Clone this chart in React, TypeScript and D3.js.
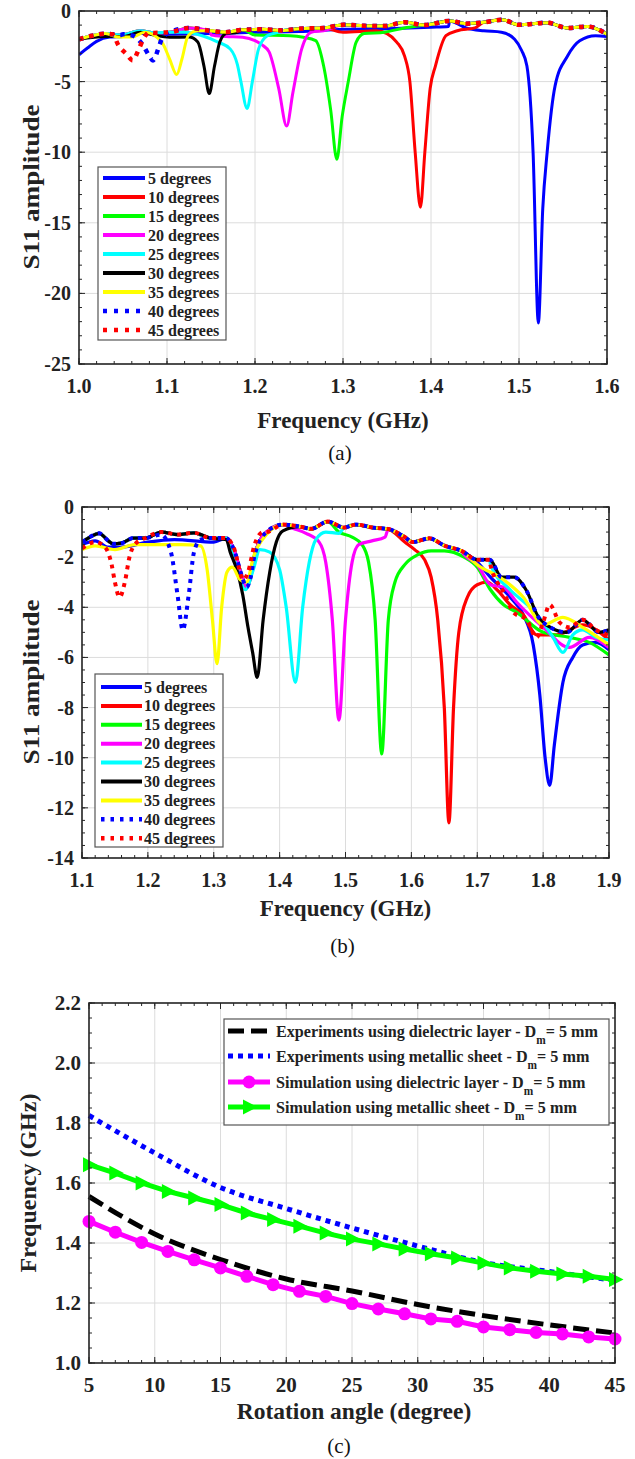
import React from 'react';
import * as d3 from 'd3';

type P = [number, number];

const FONT = "'Liberation Serif', 'Times New Roman', Times, serif";
const TXT = '#222222';
const boldStyle = (size: number): React.CSSProperties => ({ fontFamily: FONT, fontWeight: 700, fontSize: size });
const regStyle = (size: number): React.CSSProperties => ({ fontFamily: FONT, fontWeight: 400, fontSize: size });

// ---------- shared legend for (a) and (b)
const SERIES_LABELS = ['5 degrees', '10 degrees', '15 degrees', '20 degrees', '25 degrees', '30 degrees', '35 degrees', '40 degrees', '45 degrees'];
const SERIES_COLORS = ['#0000ff', '#ff0000', '#00ff00', '#ff00ff', '#00ffff', '#000000', '#ffff00', '#0000ff', '#ff0000'];
const SERIES_DOTTED = [false, false, false, false, false, false, false, true, true];

// ---------- panel (a)
const A_X_TICKS = [1.0, 1.1, 1.2, 1.3, 1.4, 1.5, 1.6];
const A_Y_TICKS = [0, -5, -10, -15, -20, -25];
const A_BASE: P[] = [[1.0, -2.0], [1.015, -1.75], [1.03, -1.6], [1.047, -1.7], [1.07, -1.4], [1.085, -1.55], [1.103, -1.5], [1.126, -1.2], [1.149, -1.4], [1.167, -1.5], [1.186, -1.33], [1.209, -1.3], [1.232, -1.38], [1.25, -1.26], [1.278, -1.2], [1.301, -0.98], [1.324, -1.05], [1.347, -1.07], [1.37, -0.8], [1.393, -1.0], [1.421, -0.7], [1.44, -0.9], [1.46, -0.8], [1.481, -0.62], [1.5, -0.98], [1.532, -0.83], [1.555, -1.2], [1.578, -1.1], [1.6, -1.65]];
const A_S5: P[][] = [
  [[1.0, -3.1], [1.01, -2.6], [1.02, -2.15], [1.035, -1.85], [1.05, -1.8]],
  [[1.07, -1.6], [1.1, -1.65], [1.15, -1.6], [1.2, -1.5], [1.25, -1.45], [1.3, -1.3], [1.35, -1.25], [1.4, -1.15], [1.42, -1.1]],
  [[1.44, -1.2], [1.46, -1.4], [1.48, -1.5], [1.495, -2.0], [1.503, -2.8], [1.509, -3.9], [1.516, -10], [1.522, -22.1], [1.527, -14], [1.532, -10], [1.541, -5.3], [1.555, -3.2], [1.569, -2.1], [1.587, -1.75], [1.6, -1.8]],
];
const A_S10: P[][] = [[[1.3, -1.5], [1.338, -1.4], [1.35, -1.6], [1.361, -2.2], [1.37, -3.2], [1.376, -5], [1.382, -10], [1.388, -13.9], [1.393, -10], [1.399, -5.5], [1.405, -3.9], [1.417, -1.75], [1.43, -1.4], [1.45, -1.2]]];
const A_S15: P[][] = [[[1.2, -1.7], [1.24, -1.75], [1.255, -1.86], [1.269, -2.1], [1.278, -3.9], [1.286, -7], [1.293, -10.5], [1.299, -7.5], [1.306, -5], [1.315, -2.2], [1.324, -1.6], [1.347, -1.5], [1.37, -1.2]]];
const A_S20: P[][] = [[[1.15, -1.7], [1.167, -1.8], [1.186, -1.86], [1.2, -2.1], [1.208, -2.4], [1.216, -2.9], [1.227, -5.5], [1.236, -8.15], [1.243, -5.8], [1.253, -2.7], [1.264, -1.5], [1.278, -1.4]]];
const A_S25: P[][] = [[[1.121, -1.5], [1.14, -1.75], [1.158, -2.2], [1.172, -2.7], [1.18, -3.8], [1.184, -5], [1.191, -6.9], [1.197, -5], [1.204, -2.7], [1.214, -1.75], [1.227, -1.5]]];
const A_S30: P[][] = [[[1.0, -2.0], [1.03, -1.8], [1.05, -1.8], [1.07, -1.5], [1.085, -1.7], [1.103, -1.86], [1.125, -1.85], [1.135, -2.2], [1.142, -3.9], [1.148, -5.85], [1.154, -3.9], [1.16, -2.2], [1.167, -1.6], [1.18, -1.5]]];
const A_S35: P[][] = [[[1.045, -1.85], [1.06, -1.85], [1.075, -1.5], [1.094, -2.2], [1.103, -3.4], [1.111, -4.5], [1.117, -3.4], [1.124, -1.75], [1.135, -1.4]]];
const A_S40: P[][] = [[[1.05, -1.65], [1.061, -1.75], [1.073, -2.45], [1.08, -3.2], [1.084, -3.5], [1.09, -2.7], [1.094, -2.0], [1.103, -1.5]]];
const A_S45: P[][] = [[[1.03, -1.6], [1.038, -1.65], [1.045, -2.45], [1.054, -3.05], [1.061, -3.5], [1.068, -2.7], [1.073, -2.0], [1.08, -1.5]]];
const A_SERIES = [A_S5, A_S10, A_S15, A_S20, A_S25, A_S30, A_S35, A_S40, A_S45];

// ---------- panel (b)
const B_X_TICKS = [1.1, 1.2, 1.3, 1.4, 1.5, 1.6, 1.7, 1.8, 1.9];
const B_Y_TICKS = [0, -2, -4, -6, -8, -10, -12, -14];
const B_BASE: P[] = [[1.1, -1.4], [1.112, -1.2], [1.126, -1.05], [1.14, -1.35], [1.147, -1.47], [1.16, -1.44], [1.178, -1.24], [1.196, -1.24], [1.221, -1.0], [1.246, -1.1], [1.27, -1.03], [1.295, -1.24], [1.319, -1.24], [1.332, -1.8], [1.342, -2.7], [1.35, -3.2], [1.356, -2.8], [1.362, -1.93], [1.38, -1.0], [1.405, -0.7], [1.43, -0.78], [1.448, -0.87], [1.473, -0.58], [1.498, -0.82], [1.516, -0.7], [1.541, -0.82], [1.565, -0.88], [1.59, -1.2], [1.602, -1.4], [1.627, -1.25], [1.651, -1.55], [1.676, -1.75], [1.7, -2.1], [1.719, -2.1], [1.737, -2.8], [1.756, -2.8], [1.774, -3.3], [1.793, -4.4], [1.811, -4.8], [1.836, -5.0], [1.86, -4.5], [1.885, -5.0], [1.9, -4.9]];
const B_S5: P[][] = [
  [[1.1, -1.5], [1.12, -1.35], [1.14, -1.6], [1.16, -1.6], [1.2, -1.4], [1.24, -1.3], [1.3, -1.4]],
  [[1.7, -2.2], [1.72, -2.8], [1.75, -3.6], [1.77, -4.3], [1.785, -5.5], [1.795, -7.5], [1.803, -10], [1.81, -11.1], [1.817, -9.5], [1.83, -7], [1.845, -6], [1.86, -5.5], [1.88, -5.4], [1.9, -5.7]],
];
const B_S10: P[][] = [[[1.59, -1.4], [1.605, -1.7], [1.62, -2.1], [1.63, -2.8], [1.64, -4.5], [1.65, -8], [1.657, -12.6], [1.664, -8], [1.672, -5], [1.685, -3.6], [1.7, -3.1], [1.715, -3.0], [1.73, -3.3], [1.75, -3.9], [1.77, -4.3], [1.79, -5.1], [1.82, -5.1], [1.86, -4.7], [1.9, -5.3]]];
const B_S15: P[][] = [[[1.49, -1.0], [1.51, -1.2], [1.525, -1.5], [1.535, -2.2], [1.545, -4.5], [1.555, -9.85], [1.565, -4.5], [1.575, -3], [1.59, -2.3], [1.61, -1.9], [1.63, -1.75], [1.65, -1.75], [1.68, -2.0], [1.7, -2.4], [1.72, -3.3], [1.74, -3.9], [1.76, -4.2], [1.8, -5.0], [1.84, -5.2], [1.87, -5.4], [1.9, -5.9]]];
const B_S20: P[][] = [
  [[1.42, -0.85], [1.44, -1.05], [1.46, -1.4], [1.47, -2.2], [1.48, -4.5], [1.49, -8.5], [1.5, -4.5], [1.51, -2.2], [1.52, -1.5], [1.54, -1.35], [1.56, -1.2]],
  [[1.68, -1.9], [1.7, -2.3], [1.72, -3.1], [1.74, -3.2], [1.76, -3.8], [1.8, -4.8], [1.84, -5.6], [1.87, -5.2], [1.9, -5.6]],
];
const B_S25: P[][] = [
  [[1.33, -2.0], [1.348, -3.3], [1.36, -2.5], [1.37, -1.7], [1.385, -1.8], [1.4, -2.5], [1.41, -4], [1.424, -7.0], [1.435, -4], [1.445, -2.2], [1.455, -1.3], [1.47, -1.0], [1.49, -1.05]],
  [[1.72, -2.3], [1.75, -3.3], [1.78, -4.0], [1.8, -4.6], [1.815, -5.2], [1.83, -5.8], [1.845, -5.1], [1.86, -4.9], [1.88, -5.2], [1.9, -5.3]],
];
const B_S30: P[][] = [[[1.319, -1.3], [1.325, -1.8], [1.335, -2.5], [1.344, -3.5], [1.352, -4.8], [1.359, -5.8], [1.366, -6.8], [1.375, -4.5], [1.385, -2.6], [1.395, -1.4], [1.405, -0.95]]];
const B_S35: P[][] = [
  [[1.1, -1.7], [1.12, -1.55], [1.15, -1.7], [1.18, -1.5], [1.2, -1.5], [1.25, -1.5], [1.28, -1.55], [1.29, -2.5], [1.298, -4.5], [1.305, -6.25], [1.312, -4], [1.32, -2.6], [1.328, -2.4], [1.34, -2.9], [1.35, -3.0], [1.36, -2.0], [1.38, -1.1]],
  [[1.7, -2.3], [1.74, -2.9], [1.77, -3.6], [1.8, -4.7], [1.83, -4.4], [1.86, -4.8], [1.9, -5.5]],
];
const B_S40: P[][] = [[[1.22, -1.1], [1.235, -1.8], [1.245, -3.5], [1.253, -4.9], [1.262, -3.5], [1.27, -1.8], [1.28, -1.3]]];
const B_S45: P[][] = [
  [[1.1, -1.65], [1.12, -1.4], [1.135, -1.6], [1.145, -2.3], [1.15, -3], [1.157, -3.6], [1.165, -3], [1.172, -2], [1.18, -1.5]],
  [[1.33, -1.6], [1.345, -2.9], [1.352, -2.6], [1.362, -1.5], [1.375, -1.0]],
  [[1.72, -2.3], [1.74, -3.4], [1.755, -4.2], [1.775, -4.5], [1.79, -5.2], [1.8, -4.6], [1.81, -3.9], [1.825, -4.6], [1.84, -4.8], [1.86, -4.5], [1.88, -4.9], [1.9, -5.1]],
];
const B_SERIES = [B_S5, B_S10, B_S15, B_S20, B_S25, B_S30, B_S35, B_S40, B_S45];

// ---------- panel (c)
const C_X_TICKS = [5, 10, 15, 20, 25, 30, 35, 40, 45];
const C_Y_TICKS = [1.0, 1.2, 1.4, 1.6, 1.8, 2.0, 2.2];
const C_EXP_ANGLES = [5, 10, 15, 20, 25, 30, 35, 40, 45];
const C_EXP_DIEL = [1.555, 1.43, 1.345, 1.28, 1.24, 1.195, 1.158, 1.127, 1.10];
const C_EXP_METAL = [1.825, 1.70, 1.585, 1.515, 1.45, 1.39, 1.335, 1.305, 1.275];
const C_SIM_ANGLES = [5, 7, 9, 11, 13, 15, 17, 19, 21, 23, 25, 27, 29, 31, 33, 35, 37, 39, 41, 43, 45];
const C_SIM_DIEL = [1.472, 1.436, 1.402, 1.372, 1.344, 1.317, 1.289, 1.261, 1.239, 1.222, 1.198, 1.18, 1.164, 1.147, 1.139, 1.12, 1.111, 1.102, 1.097, 1.087, 1.08];
const C_SIM_METAL = [1.661, 1.633, 1.60, 1.572, 1.55, 1.528, 1.50, 1.478, 1.456, 1.433, 1.413, 1.397, 1.38, 1.364, 1.35, 1.333, 1.317, 1.306, 1.297, 1.289, 1.278];
const C_LEGEND = [
  'Experiments using dielectric layer - D',
  'Experiments using metallic sheet - D',
  'Simulation using dielectric layer - D',
  'Simulation using metallic sheet - D',
];

function merge(base: P[], segs: P[][]): P[] {
  const out: P[] = base.filter((p) => !segs.some((s) => p[0] >= s[0][0] && p[0] <= s[s.length - 1][0]));
  segs.forEach((s) => out.push(...s));
  return out.sort((a, b) => a[0] - b[0]);
}

type FrameProps = {
  x: d3.ScaleLinear<number, number>;
  y: d3.ScaleLinear<number, number>;
  xTicks: number[];
  yTicks: number[];
  xMinor: number[];
  yMinor: number[];
  xFmt: (v: number) => string;
  yFmt: (v: number) => string;
  fontSize: number;
  xLabelBaseline: number;
  layer: 'grid' | 'axes';
};

function Frame(p: FrameProps) {
  const [xl, xr] = p.x.range();
  const [yb, yt] = p.y.range();
  if (p.layer === 'grid') {
    return (
      <g stroke="#dcdcdc" strokeWidth={1}>
        {p.xTicks.map((t) => (
          <line key={'gx' + t} x1={p.x(t)} x2={p.x(t)} y1={yt} y2={yb} />
        ))}
        {p.yTicks.map((t) => (
          <line key={'gy' + t} x1={xl} x2={xr} y1={p.y(t)} y2={p.y(t)} />
        ))}
      </g>
    );
  }
  const M = 6;
  const m = 3;
  return (
    <g>
      <g stroke="#262626" strokeWidth={1}>
        {p.xMinor.map((t) => (
          <g key={'mx' + t}>
            <line x1={p.x(t)} x2={p.x(t)} y1={yb} y2={yb - m} />
            <line x1={p.x(t)} x2={p.x(t)} y1={yt} y2={yt + m} />
          </g>
        ))}
        {p.yMinor.map((t) => (
          <g key={'my' + t}>
            <line x1={xl} x2={xl + m} y1={p.y(t)} y2={p.y(t)} />
            <line x1={xr} x2={xr - m} y1={p.y(t)} y2={p.y(t)} />
          </g>
        ))}
        {p.xTicks.map((t) => (
          <g key={'Mx' + t}>
            <line x1={p.x(t)} x2={p.x(t)} y1={yb} y2={yb - M} />
            <line x1={p.x(t)} x2={p.x(t)} y1={yt} y2={yt + M} />
          </g>
        ))}
        {p.yTicks.map((t) => (
          <g key={'My' + t}>
            <line x1={xl} x2={xl + M} y1={p.y(t)} y2={p.y(t)} />
            <line x1={xr} x2={xr - M} y1={p.y(t)} y2={p.y(t)} />
          </g>
        ))}
      </g>
      <rect x={xl} y={yt} width={xr - xl} height={yb - yt} fill="none" stroke="#262626" strokeWidth={1.6} />
      <g fill={TXT}>
        {p.xTicks.map((t) => (
          <text key={'tx' + t} x={p.x(t)} y={p.xLabelBaseline} textAnchor="middle" style={boldStyle(p.fontSize)}>
            {p.xFmt(t)}
          </text>
        ))}
        {p.yTicks.map((t) => (
          <text key={'ty' + t} x={xl - 8} y={p.y(t)} dy="0.35em" textAnchor="end" style={boldStyle(p.fontSize)}>
            {p.yFmt(t)}
          </text>
        ))}
      </g>
    </g>
  );
}

function SParamPanel(props: {
  id: string;
  x: d3.ScaleLinear<number, number>;
  y: d3.ScaleLinear<number, number>;
  base: P[];
  series: P[][][];
  xTicks: number[];
  yTicks: number[];
  xMinorStep: number;
  yMinorStep: number;
  xLabelBaseline: number;
  titleBaseline: number;
  capBaseline: number;
  caption: string;
  yLabelCenter: number;
  legend: { x: number; y: number; w: number; h: number; row0: number; step: number; lx0: number; lx1: number; tx: number };
  solidW: number;
  dotW: number;
  dotDash: string;
  legDotDash: string;
}) {
  const { x, y } = props;
  const [xl, xr] = x.range();
  const [yb, yt] = y.range();
  const line = d3
    .line<P>()
    .x((d) => x(d[0]))
    .y((d) => y(d[1]))
    .curve(d3.curveMonotoneX);
  const xd = x.domain();
  const yd = y.domain();
  const xMinor = d3.range(Math.round((xd[1] - xd[0]) / props.xMinorStep) + 1).map((i) => +(xd[0] + i * props.xMinorStep).toFixed(4));
  const yMinor = d3.range(Math.round((yd[1] - yd[0]) / props.yMinorStep) + 1).map((i) => +(yd[0] + i * props.yMinorStep).toFixed(4));
  const fr = {
    x,
    y,
    xTicks: props.xTicks,
    yTicks: props.yTicks,
    xMinor,
    yMinor,
    xFmt: (v: number) => v.toFixed(1),
    yFmt: (v: number) => String(v),
    fontSize: 20,
    xLabelBaseline: props.xLabelBaseline,
  };
  const L = props.legend;
  return (
    <g>
      <defs>
        <clipPath id={props.id}>
          <rect x={xl} y={yt} width={xr - xl} height={yb - yt} />
        </clipPath>
      </defs>
      <Frame {...fr} layer="grid" />
      <g clipPath={`url(#${props.id})`} fill="none">
        {props.series.map((segs, i) => (
          <path
            key={i}
            d={line(merge(props.base, segs)) || ''}
            stroke={SERIES_COLORS[i]}
            strokeWidth={SERIES_DOTTED[i] ? props.dotW : props.solidW}
            strokeDasharray={SERIES_DOTTED[i] ? props.dotDash : undefined}
            strokeLinejoin="round"
          />
        ))}
      </g>
      <Frame {...fr} layer="axes" />
      <g>
        <rect x={L.x} y={L.y} width={L.w} height={L.h} fill="#fff" stroke="#555" strokeWidth={1.2} />
        {SERIES_LABELS.map((lab, i) => {
          const cy = L.row0 + i * L.step;
          return (
            <g key={lab}>
              <line
                x1={L.lx0}
                x2={L.lx1}
                y1={cy}
                y2={cy}
                stroke={SERIES_COLORS[i]}
                strokeWidth={SERIES_DOTTED[i] ? 4.5 : 4}
                strokeDasharray={SERIES_DOTTED[i] ? props.legDotDash : undefined}
              />
              <text x={L.tx} y={cy + 5.5} style={boldStyle(16)} fill={TXT}>
                {lab}
              </text>
            </g>
          );
        })}
      </g>
      <text x={(xl + xr) / 2} y={props.titleBaseline} textAnchor="middle" style={boldStyle(23)} fill={TXT}>
        Frequency (GHz)
      </text>
      <text transform={`translate(39,${props.yLabelCenter}) rotate(-90) scale(1.18,1)`} textAnchor="middle" style={boldStyle(23)} fill={TXT}>
        S11 amplitude
      </text>
      <text x={(xl + xr) / 2 - 3} y={props.capBaseline} textAnchor="middle" style={regStyle(21)} fill="#111">
        {props.caption}
      </text>
    </g>
  );
}

function PanelC() {
  const x = d3.scaleLinear().domain([5, 45]).range([89, 615]);
  const y = d3.scaleLinear().domain([1.0, 2.2]).range([1363, 1003]);
  const xMinor = d3.range(5, 46, 1);
  const yMinor = d3.range(0, 25).map((i) => +(1.0 + i * 0.05).toFixed(3));
  const fr = {
    x,
    y,
    xTicks: C_X_TICKS,
    yTicks: C_Y_TICKS,
    xMinor,
    yMinor,
    xFmt: (v: number) => String(v),
    yFmt: (v: number) => v.toFixed(1),
    fontSize: 21,
    xLabelBaseline: 1392,
  };
  const smooth = d3
    .line<[number, number]>()
    .x((d) => x(d[0]))
    .y((d) => y(d[1]))
    .curve(d3.curveMonotoneX);
  const straight = d3
    .line<[number, number]>()
    .x((d) => x(d[0]))
    .y((d) => y(d[1]));
  const expDiel = C_EXP_ANGLES.map((a, i) => [a, C_EXP_DIEL[i]] as [number, number]);
  const expMetal = C_EXP_ANGLES.map((a, i) => [a, C_EXP_METAL[i]] as [number, number]);
  const simDiel = C_SIM_ANGLES.map((a, i) => [a, C_SIM_DIEL[i]] as [number, number]);
  const simMetal = C_SIM_ANGLES.map((a, i) => [a, C_SIM_METAL[i]] as [number, number]);
  const tri = (cx: number, cy: number) => `M${cx - 6},${cy - 7.5}L${cx + 8.5},${cy}L${cx - 6},${cy + 7.5}Z`;
  const [xl, xr] = x.range();
  const legRows = [1031, 1056, 1082, 1107];
  const lx0 = 228;
  const lx1 = 270;
  const lmid = (lx0 + lx1) / 2;
  return (
    <g>
      <Frame {...fr} layer="grid" />
      <g fill="none">
        <path d={smooth(expDiel) || ''} stroke="#000" strokeWidth={5} strokeDasharray="16 7" />
        <path d={smooth(expMetal) || ''} stroke="#0000ff" strokeWidth={5} strokeDasharray="5 5" />
        <path d={straight(simDiel) || ''} stroke="#ff00ff" strokeWidth={5} />
        <path d={straight(simMetal) || ''} stroke="#00ff00" strokeWidth={5} />
      </g>
      {simDiel.map((d, i) => (
        <circle key={'c' + i} cx={x(d[0])} cy={y(d[1])} r={6.5} fill="#ff00ff" />
      ))}
      {simMetal.map((d, i) => (
        <path key={'t' + i} d={tri(x(d[0]), y(d[1]))} fill="#00ff00" />
      ))}
      <Frame {...fr} layer="axes" />
      <rect x={224} y={1019} width={385} height={106} fill="#fff" stroke="#555" strokeWidth={1.2} />
      <line x1={lx0} x2={lx1} y1={legRows[0]} y2={legRows[0]} stroke="#000" strokeWidth={5} strokeDasharray="16 7" />
      <line x1={lx0} x2={lx1} y1={legRows[1]} y2={legRows[1]} stroke="#0000ff" strokeWidth={5} strokeDasharray="5 5" />
      <line x1={lx0} x2={lx1} y1={legRows[2]} y2={legRows[2]} stroke="#ff00ff" strokeWidth={5} />
      <circle cx={lmid} cy={legRows[2]} r={6.5} fill="#ff00ff" />
      <line x1={lx0} x2={lx1} y1={legRows[3]} y2={legRows[3]} stroke="#00ff00" strokeWidth={5} />
      <path d={tri(lmid, legRows[3])} fill="#00ff00" />
      {C_LEGEND.map((t, i) => (
        <g key={t} transform={`translate(276,${legRows[i] + 5.5}) scale(0.95,1)`}>
          <text style={boldStyle(17)} fill={TXT}>
            <tspan>{t}</tspan>
            <tspan dy={7} style={boldStyle(12)}>
              m
            </tspan>
            <tspan dy={-7}>= 5 mm</tspan>
          </text>
        </g>
      ))}
      <text x={(xl + xr) / 2 + 2} y={1419} textAnchor="middle" style={boldStyle(23.5)} fill={TXT}>
        Rotation angle (degree)
      </text>
      <text transform={`translate(36,1183) rotate(-90)`} textAnchor="middle" style={boldStyle(24)} fill={TXT}>
        Frequency (GHz)
      </text>
      <text x={339} y={1453} textAnchor="middle" style={regStyle(21)} fill="#111">
        (c)
      </text>
    </g>
  );
}

export default function App() {
  const xA = d3.scaleLinear().domain([1.0, 1.6]).range([79, 607]);
  const yA = d3.scaleLinear().domain([-25, 0]).range([364, 11]);
  const xB = d3.scaleLinear().domain([1.1, 1.9]).range([82, 609]);
  const yB = d3.scaleLinear().domain([-14, 0]).range([858, 507]);
  return (
    <svg width={635} height={1459} style={{ position: 'absolute', left: 0, top: 0, background: '#fff', fontFamily: FONT }}>
      <rect width={635} height={1459} fill="#fff" />
      <SParamPanel
        id="clipA"
        x={xA}
        y={yA}
        base={A_BASE}
        series={A_SERIES}
        xTicks={A_X_TICKS}
        yTicks={A_Y_TICKS}
        xMinorStep={0.02}
        yMinorStep={1}
        xLabelBaseline={393}
        titleBaseline={428}
        capBaseline={460}
        caption="(a)"
        yLabelCenter={187}
        legend={{ x: 98, y: 167, w: 128, h: 173, row0: 178, step: 19, lx0: 103, lx1: 145, tx: 148 }}
        solidW={3}
        dotW={4.5}
        dotDash="4.5 6"
        legDotDash="4 7"
      />
      <SParamPanel
        id="clipB"
        x={xB}
        y={yB}
        base={B_BASE}
        series={B_SERIES}
        xTicks={B_X_TICKS}
        yTicks={B_Y_TICKS}
        xMinorStep={0.02}
        yMinorStep={0.5}
        xLabelBaseline={887}
        titleBaseline={916}
        capBaseline={953}
        caption="(b)"
        yLabelCenter={682}
        legend={{ x: 95, y: 674, w: 128, h: 173, row0: 687, step: 18.9, lx0: 101, lx1: 142, tx: 144 }}
        solidW={3.2}
        dotW={4}
        dotDash="4 5"
        legDotDash="3.5 6"
      />
      <PanelC />
    </svg>
  );
}
